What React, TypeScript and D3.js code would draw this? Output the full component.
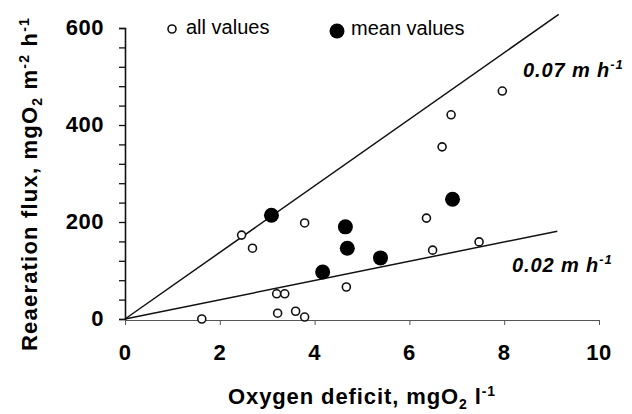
import * as d3 from "d3";
import { useEffect, useRef } from "react";

// all values (open circles): [oxygen deficit, reaeration flux]
const allDeficit = [1.62, 2.46, 2.69, 3.2, 3.37, 3.22, 3.6, 3.79, 3.79, 4.67, 6.36, 6.49, 7.47, 6.69, 6.88, 7.96];
const allFlux = [0, 173, 146, 52, 52, 12, 16, 4, 198, 66, 208, 142, 159, 355, 421, 470];

// mean values (filled circles)
const meanDeficit = [3.09, 4.17, 4.65, 4.69, 5.39, 6.91];
const meanFlux = [214, 97, 190, 146, 126, 247];

// reaeration coefficient lines, start and end
const line07 = [[0, 0], [9.15, 628]];
const line02 = [[0, 0], [9.12, 181]];

const xTicks = [0, 2, 4, 6, 8, 10];
const yTicks = [0, 200, 400, 600];
const yMinorTicks = d3.range(0, 601, 40);

const font = "'Liberation Sans', Arial, sans-serif";

const ChartDraw = () => {
    const chartRef = useRef(null);

    useEffect(() => {
        const svg = d3.select(chartRef.current);
        svg.selectAll("*").remove();

        const scaleX = d3.scaleLinear().domain([0, 10]).range([125, 599]);
        const scaleY = d3.scaleLinear().domain([0, 600]).range([319, 28]);

        svg.append("rect").attr("width", 632).attr("height", 414).style("fill", "white");

        // y axis
        const yAxis = d3.axisLeft(scaleY).tickValues(yMinorTicks).tickSize(6).tickFormat(() => "");
        const gy = svg.append("g").attr("transform", `translate(${scaleX(0)},0)`).call(yAxis);
        gy.select(".domain").attr("stroke", "#111").attr("stroke-width", 1.6);
        gy.selectAll(".tick line").attr("stroke", "#111").attr("stroke-width", 1.3);

        svg.append("g").selectAll("text")
            .data(yTicks)
            .enter()
            .append("text")
            .attr("x", 104)
            .attr("y", d => scaleY(d) + 7)
            .attr("text-anchor", "end")
            .style("font-family", font)
            .style("font-weight", "bold")
            .style("font-size", "22px")
            .style("letter-spacing", "0.5px")
            .text(d => d);

        // x axis
        const xAxis = d3.axisBottom(scaleX).tickValues(xTicks).tickSize(5).tickFormat(() => "");
        const gx = svg.append("g").attr("transform", `translate(0,${scaleY(0) + 1})`).call(xAxis);
        gx.select(".domain").attr("stroke", "#555").attr("stroke-width", 1);
        gx.selectAll(".tick line").attr("stroke", "#555");

        svg.append("g").selectAll("text")
            .data(xTicks)
            .enter()
            .append("text")
            .attr("x", d => scaleX(d))
            .attr("y", 360)
            .attr("text-anchor", "middle")
            .style("font-family", font)
            .style("font-weight", "bold")
            .style("font-size", "22px")
            .style("letter-spacing", "0.5px")
            .text(d => d);

        // lines
        const lineGen = d3.line().x(d => scaleX(d[0])).y(d => scaleY(d[1]));
        [line07, line02].forEach(l => {
            svg.append("path")
                .attr("d", lineGen(l))
                .attr("fill", "none")
                .attr("stroke", "#111")
                .attr("stroke-width", 1.5);
        });

        // points
        svg.append("g").selectAll("circle")
            .data(allDeficit.map((x, i) => [x, allFlux[i]]))
            .enter()
            .append("circle")
            .attr("cx", d => scaleX(d[0]))
            .attr("cy", d => scaleY(d[1]))
            .attr("r", 4)
            .attr("fill", "white")
            .attr("stroke", "#111")
            .attr("stroke-width", 1.6);

        svg.append("g").selectAll("circle")
            .data(meanDeficit.map((x, i) => [x, meanFlux[i]]))
            .enter()
            .append("circle")
            .attr("cx", d => scaleX(d[0]))
            .attr("cy", d => scaleY(d[1]))
            .attr("r", 7.5)
            .attr("fill", "#000");

        // legend
        svg.append("circle").attr("cx", 172).attr("cy", 29).attr("r", 4)
            .attr("fill", "white").attr("stroke", "#111").attr("stroke-width", 1.6);
        svg.append("text").attr("x", 186).attr("y", 34)
            .style("font-family", font).style("font-size", "20px").text("all values");
        svg.append("circle").attr("cx", 337).attr("cy", 31).attr("r", 7.5).attr("fill", "#000");
        svg.append("text").attr("x", 351).attr("y", 35)
            .style("font-family", font).style("font-size", "20px").text("mean values");

        // line labels
        const lineLabel = (x, y, value) => {
            const t = svg.append("text").attr("x", x).attr("y", y)
                .style("font-family", font)
                .style("font-weight", "bold")
                .style("font-style", "italic")
                .style("font-size", "20px")
                .style("letter-spacing", "0.9px");
            t.append("tspan").text(`${value} m h`);
            t.append("tspan").attr("dy", -8).style("font-size", "13px").text("-1");
        };
        lineLabel(523, 77, "0.07");
        lineLabel(512, 272, "0.02");

        // axis titles
        const xt = svg.append("text").attr("x", 362).attr("y", 404).attr("text-anchor", "middle")
            .style("font-family", font).style("font-weight", "bold").style("font-size", "22px")
            .style("letter-spacing", "0.9px");
        xt.append("tspan").text("Oxygen deficit, mgO");
        xt.append("tspan").attr("dy", 5).style("font-size", "14px").text("2");
        xt.append("tspan").attr("dy", -5).text(" l");
        xt.append("tspan").attr("dy", -8).style("font-size", "14px").text("-1");

        const yt = svg.append("text")
            .attr("transform", "translate(37,184) rotate(-90)")
            .attr("text-anchor", "middle")
            .style("font-family", font).style("font-weight", "bold").style("font-size", "22px")
            .style("letter-spacing", "1.2px");
        yt.append("tspan").text("Reaeration flux, mgO");
        yt.append("tspan").attr("dy", 5).style("font-size", "14px").text("2");
        yt.append("tspan").attr("dy", -5).text(" m");
        yt.append("tspan").attr("dy", -8).style("font-size", "14px").text("-2");
        yt.append("tspan").attr("dy", 8).text(" h");
        yt.append("tspan").attr("dy", -8).style("font-size", "14px").text("-1");
    }, []);

    return (
        <svg ref={chartRef} width={632} height={414}
            style={{ position: "absolute", left: 0, top: 0 }}></svg>
    );
};

export default function App() {
    return <ChartDraw />;
}
